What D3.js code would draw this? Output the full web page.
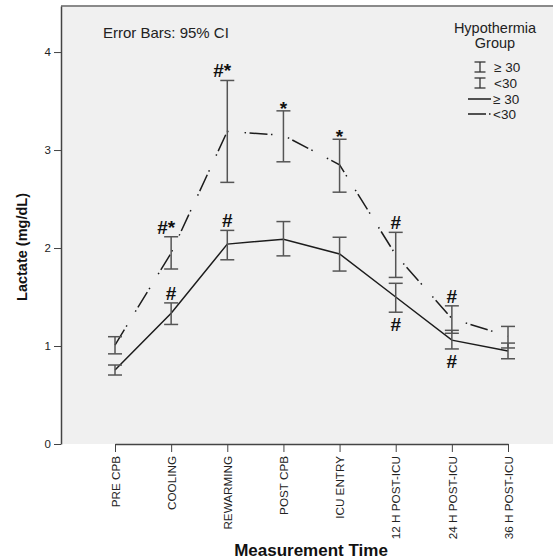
<!DOCTYPE html>
<html>
<head>
<meta charset="utf-8">
<script src="https://cdn.jsdelivr.net/npm/d3@7"></script>
<style>
  html, body { margin: 0; padding: 0; background: #ffffff; }
  svg { display: block; font-family: "Liberation Sans", Arial, sans-serif; }
</style>
</head>
<body>
<svg id="chart" width="553" height="560"></svg>
<script>
// ---- data ----
const categories = ["PRE CPB", "COOLING", "REWARMING", "POST CPB", "ICU ENTRY", "12 H POST-ICU", "24 H POST-ICU", "36 H POST-ICU"];
const yTicks = [0, 1, 2, 3, 4];
const groups = ["\u2265 30", "<30"];

// group >= 30 (solid line)
const highMean  = [0.755, 1.334, 2.04, 2.09, 1.94, 1.50, 1.06, 0.95];
const highUpper = [0.806, 1.44, 2.18, 2.27, 2.11, 1.64, 1.16, 1.03];
const highLower = [0.704, 1.22, 1.88, 1.92, 1.765, 1.345, 0.97, 0.87];

// group < 30 (dash-dot line)
const lowMean  = [1.01, 1.95, 3.19, 3.15, 2.85, 1.93, 1.28, 1.10];
const lowUpper = [1.095, 2.115, 3.71, 3.40, 3.11, 2.16, 1.41, 1.20];
const lowLower = [0.92, 1.786, 2.67, 2.88, 2.57, 1.70, 1.13, 0.98];

// significance marks
const lowSig = ["", "#*", "#*", "*", "*", "#", "#", ""];      // above upper cap of <30
const highSig = ["", "#", "#", "", "", "#", "#", ""];         // >= 30
const highSigPos = ["", "above", "above", "", "", "below", "below", ""];

// ---- layout ----
const svg = d3.select("#chart");
const plot = { left: 61, top: 6, right: 553, bottom: 444 };

const x = d3.scalePoint().domain(categories).range([115, 508]);
const y = d3.scaleLinear().domain([0, 4.47]).range([plot.bottom, plot.top]);

// plot background
svg.append("rect")
  .attr("x", plot.left).attr("y", plot.top)
  .attr("width", plot.right - plot.left).attr("height", plot.bottom - plot.top)
  .attr("fill", "#f0f0f0");
svg.append("line")
  .attr("x1", plot.left).attr("x2", plot.right)
  .attr("y1", plot.top).attr("y2", plot.top)
  .attr("stroke", "#8a8a8a").attr("stroke-width", 2);

// axes
const yAxis = svg.append("g")
  .attr("transform", `translate(${plot.left},0)`)
  .call(d3.axisLeft(y).tickValues(yTicks).tickFormat(d3.format("d")).tickSize(7).tickSizeOuter(0));
yAxis.select(".domain").attr("stroke", "#444").attr("stroke-width", 1.5);
yAxis.selectAll(".tick line").attr("stroke", "#444");
yAxis.selectAll(".tick text").attr("font-size", 11.5).attr("fill", "#222")
  .attr("font-family", "Liberation Sans, Arial, sans-serif");

const xAxis = svg.append("g")
  .attr("transform", `translate(0,${plot.bottom})`)
  .call(d3.axisBottom(x).tickSize(8).tickSizeOuter(0));
xAxis.select(".domain").attr("stroke", "#444").attr("stroke-width", 1.5);
xAxis.selectAll(".tick line").attr("stroke", "#444");
xAxis.selectAll(".tick text")
  .attr("font-size", 11.7).attr("fill", "#222")
  .attr("font-family", "Liberation Sans, Arial, sans-serif")
  .attr("transform", "rotate(-90)")
  .attr("x", -12).attr("y", 0).attr("dy", "0.36em")
  .style("text-anchor", "end");

// axis titles
svg.append("text")
  .attr("x", 311).attr("y", 556)
  .attr("text-anchor", "middle")
  .attr("font-weight", "bold").attr("font-size", 17).attr("fill", "#111")
  .text("Measurement Time");
svg.append("text")
  .attr("transform", "translate(27,247) rotate(-90)")
  .attr("text-anchor", "middle")
  .attr("font-weight", "bold").attr("font-size", 14.5).attr("fill", "#111")
  .text("Lactate (mg/dL)");

// note
svg.append("text")
  .attr("x", 103).attr("y", 38)
  .attr("font-size", 15).attr("fill", "#222")
  .text("Error Bars: 95% CI");

// lines
const line = d3.line().x((d, i) => x(categories[i])).y(d => y(d));
const dashPattern = "18,3.5,1.5,16,1.5,3.5";

svg.append("path")
  .datum(lowMean)
  .attr("d", line)
  .attr("fill", "none").attr("stroke", "#1c1c1c").attr("stroke-width", 1.5)
  .attr("stroke-dasharray", dashPattern);

svg.append("path")
  .datum(highMean)
  .attr("d", line)
  .attr("fill", "none").attr("stroke", "#1c1c1c").attr("stroke-width", 1.5);

// error bars
function errorBars(upper, lower) {
  const g = svg.append("g").attr("stroke", "#555").attr("stroke-width", 1.5).attr("fill", "none");
  const cap = 7;
  categories.forEach((c, i) => {
    const cx = x(c);
    g.append("line").attr("x1", cx).attr("x2", cx).attr("y1", y(upper[i])).attr("y2", y(lower[i]));
    g.append("line").attr("x1", cx - cap).attr("x2", cx + cap).attr("y1", y(upper[i])).attr("y2", y(upper[i]));
    g.append("line").attr("x1", cx - cap).attr("x2", cx + cap).attr("y1", y(lower[i])).attr("y2", y(lower[i]));
  });
}
errorBars(highUpper, highLower);
errorBars(lowUpper, lowLower);

// significance marks
const sigG = svg.append("g").attr("font-weight", "bold").attr("font-size", 19).attr("fill", "#111");
categories.forEach((c, i) => {
  const cx = x(c);
  const s = lowSig[i];
  if (s) {
    const top = y(lowUpper[i]);
    sigG.append("text")
      .attr("x", s === "#*" ? cx - 5 : cx)
      .attr("y", s === "*" ? top + 4 : top - 3)
      .attr("text-anchor", "middle")
      .text(s);
  }
  const h = highSig[i];
  if (h) {
    const above = highSigPos[i] === "above";
    sigG.append("text")
      .attr("x", cx)
      .attr("y", above ? y(highUpper[i]) - 3 : y(highLower[i]) + 19)
      .attr("text-anchor", "middle")
      .text(h);
  }
});

// legend
const lg = svg.append("g");
lg.append("text").attr("x", 495).attr("y", 33).attr("text-anchor", "middle")
  .attr("font-size", 14.5).attr("fill", "#222").text("Hypothermia");
lg.append("text").attr("x", 495).attr("y", 48).attr("text-anchor", "middle")
  .attr("font-size", 14.5).attr("fill", "#222").text("Group");

const rowY = [67, 83, 99, 114];
// error bar icons
[0, 1].forEach(k => {
  const cy = rowY[k], cx = 480;
  const ig = lg.append("g").attr("stroke", "#333").attr("stroke-width", 1.3);
  ig.append("line").attr("x1", cx).attr("x2", cx).attr("y1", cy - 5).attr("y2", cy + 5);
  ig.append("line").attr("x1", cx - 5.5).attr("x2", cx + 5.5).attr("y1", cy - 5).attr("y2", cy - 5);
  ig.append("line").attr("x1", cx - 5.5).attr("x2", cx + 5.5).attr("y1", cy + 5).attr("y2", cy + 5);
  lg.append("text").attr("x", 494).attr("y", cy + 5).attr("font-size", 13.5).attr("fill", "#222").text(groups[k]);
});
// line samples
[0, 1].forEach(k => {
  const cy = rowY[k + 2];
  lg.append("line").attr("x1", 468).attr("x2", 491).attr("y1", cy).attr("y2", cy)
    .attr("stroke", "#1c1c1c").attr("stroke-width", 1.5)
    .attr("stroke-dasharray", k === 1 ? "18,3,1.5,20" : null);
  lg.append("text").attr("x", 493).attr("y", cy + 5).attr("font-size", 13.5).attr("fill", "#222").text(groups[k]);
});
</script>
</body>
</html>
